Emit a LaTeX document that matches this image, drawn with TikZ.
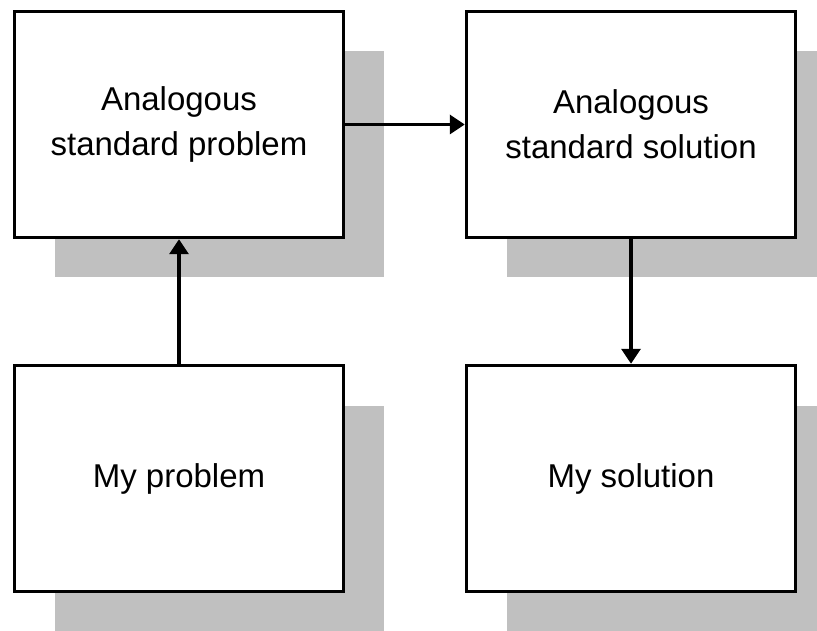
\documentclass[tikz,border=0pt]{standalone}
\usepackage{fontspec}
\setmainfont{Liberation Sans}
\usetikzlibrary{arrows.meta,shadows}
\definecolor{shadowgray}{RGB}{192,192,192}
\begin{document}
\begin{tikzpicture}[x=1pt,y=-1pt,
		box/.style = {draw, line width=3.5pt, fill=white, minimum width=329pt, minimum height=226pt,
			align=center, font=\fontsize{33}{45}\selectfont,
			drop shadow={shadow xshift=40pt, shadow yshift=-40pt, fill=shadowgray, opacity=1}},
		flow/.style = {line width=3.5pt, -{Triangle[length=15pt,width=19pt]}}]
		\useasboundingbox (0,0) rectangle (817,631);
		
		\node[box] (stdprob) at (179,124.5) {Analogous\\standard problem};
		\node[box] (stdsol) at (631,124.5) {Analogous\\standard solution};
		\node[box] (myprob) at (179,478.5) {My problem};
		\node[box] (mysol) at (631,478.5) {My solution};
		
		\draw[flow] (myprob.north) -- (stdprob.south);
		\draw[flow] (stdprob.east) -- (stdsol.west);
		\draw[flow] (stdsol.south) -- (mysol.north);
		
	\end{tikzpicture}
\end{document}
